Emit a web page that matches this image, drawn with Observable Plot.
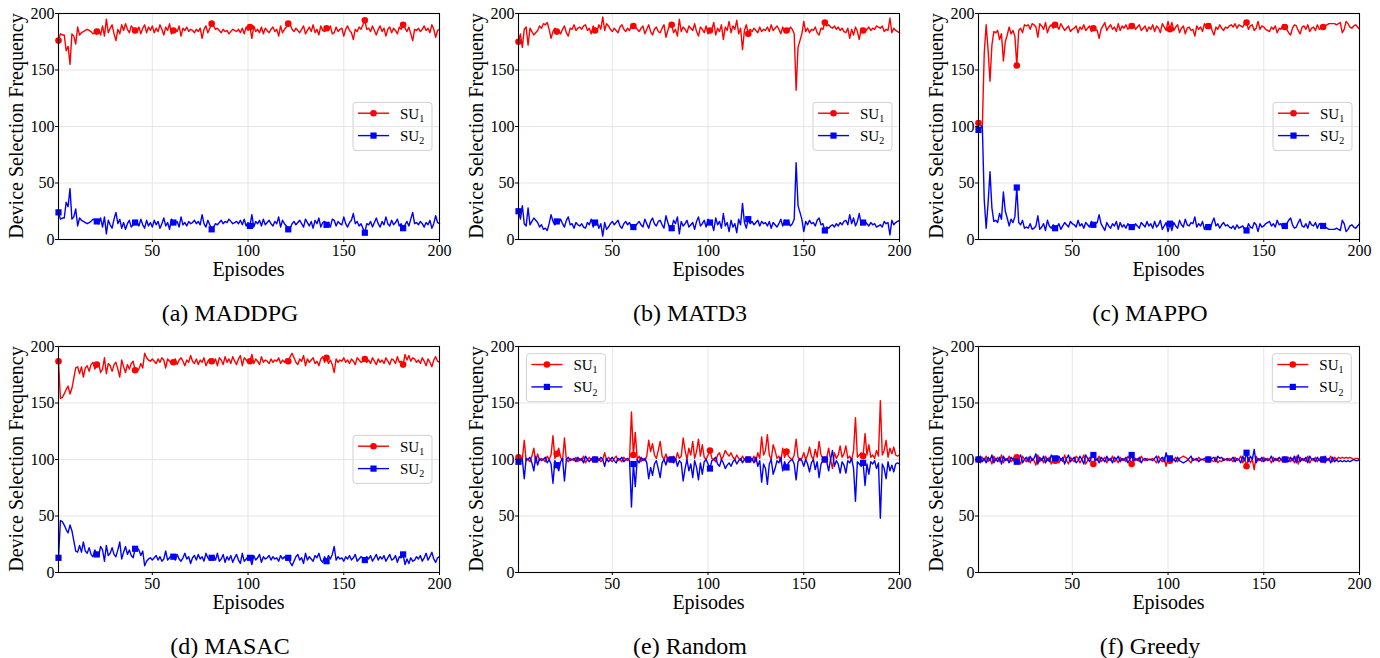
<!DOCTYPE html>
<html>
<head>
<meta charset="utf-8">
<script src="https://cdn.jsdelivr.net/npm/d3@7"></script>
<script src="https://cdn.jsdelivr.net/npm/@observablehq/plot@0.6"></script>
<style>
  html, body { margin: 0; padding: 0; background: #ffffff; }
  #page { position: relative; width: 1380px; height: 658px; overflow: hidden; background: #fff; font-family: "Liberation Serif", "DejaVu Serif", serif; }
  .panel { position: absolute; }
  #overlay { position: absolute; left: 0; top: 0; pointer-events: none; }
</style>
</head>
<body>
<div id="page"></div>
<script>
// ---------------- DATA ----------------
const episodes = d3.range(1, 201);
const markerEpisodes = [1, 21, 41, 61, 81, 101, 121, 141, 161, 181];
const xTicks = [50, 100, 150, 200];
const yTicks = [0, 50, 100, 150, 200];
const seriesNames = ["SU1", "SU2"];

const maddpgSU1 = [176,182,181,181,167,171,155,182,180,173, 188,181,183,184,185,186,185,184,182,183,
  184,186,181,189,180,195,183,187,190,182, 176,186,182,190,185,191,186,183,189,187,
  185,184,188,182,187,190,183,188,185,189, 183,187,184,190,186,181,188,185,191,182,
  185,186,184,189,180,187,185,188,184,186, 185,183,186,184,187,178,186,189,183,187,
  191,189,186,187,185,183,186,184,185,182, 184,186,185,184,186,183,187,182,188,185,
  188,178,189,184,186,183,188,182,187,185, 183,186,188,184,186,180,189,183,186,188,
  191,190,186,184,187,185,183,186,189,182, 185,188,184,190,183,186,181,189,185,184,
  187,185,189,182,183,188,184,186,187,180, 186,189,185,183,177,186,184,188,186,190,
  194,186,187,184,189,185,181,186,189,184, 187,180,186,188,183,187,185,182,188,186,
  190,187,184,188,182,176,186,185,187,184, 186,189,185,187,183,190,186,179,185,186];
const maddpgSU2 = [24,18,19,19,33,29,45,18,20,27, 12,19,17,16,15,14,15,16,18,17,
  16,14,19,11,20,5,17,13,10,18, 24,14,18,10,15,9,14,17,11,13,
  15,16,12,18,13,10,17,12,15,11, 17,13,16,10,14,19,12,15,9,18,
  15,14,16,11,20,13,15,12,16,14, 15,17,14,16,13,22,14,11,17,13,
  9,11,14,13,15,17,14,16,15,18, 16,14,15,16,14,17,13,18,12,15,
  12,22,11,16,14,17,12,18,13,15, 17,14,12,16,14,20,11,17,14,12,
  9,10,14,16,13,15,17,14,11,18, 15,12,16,10,17,14,19,11,15,16,
  13,15,11,18,17,12,16,14,13,20, 14,11,15,17,23,14,16,12,14,10,
  6,14,13,16,11,15,19,14,11,16, 13,20,14,12,17,13,15,18,12,14,
  10,13,16,12,18,24,14,15,13,16, 14,11,15,13,17,10,14,21,15,14];

const matd3SU1 = [175,182,170,186,188,172,187,184,181,183, 185,189,187,191,190,192,186,178,184,187,
  184,185,182,186,189,183,180,187,186,190, 185,187,188,186,189,190,185,187,182,189,
  185,184,190,186,197,185,191,189,186,184, 187,185,183,188,190,186,184,187,185,189,
  189,188,186,184,187,189,182,186,190,184, 181,186,188,184,183,187,190,179,185,190,
  190,183,186,180,195,184,188,186,183,189, 187,185,191,184,180,188,186,183,189,182,
  185,186,192,181,187,184,190,177,188,185, 193,183,189,186,194,182,187,168,185,190,
  182,186,184,187,185,183,188,184,186,185, 188,184,190,185,187,189,186,182,188,183,
  185,184,188,186,182,132,170,176,182,193, 184,187,183,186,185,188,183,181,187,186,
  192,189,190,188,187,189,186,188,185,187, 184,183,187,178,186,181,188,184,177,187,
  185,184,186,188,185,187,186,189,188,187, 189,184,186,185,196,183,187,185,184,183];
const matd3SU2 = [25,18,30,14,12,28,13,16,19,17, 15,11,13,9,10,8,14,22,16,13,
  16,15,18,14,11,17,20,13,14,10, 15,13,12,14,11,10,15,13,18,11,
  15,16,10,14,3,15,9,11,14,16, 13,15,17,12,10,14,16,13,15,11,
  11,12,14,16,13,11,18,14,10,16, 19,14,12,16,17,13,10,21,15,10,
  10,17,14,20,5,16,12,14,17,11, 13,15,9,16,20,12,14,17,11,18,
  15,14,8,19,13,16,10,23,12,15, 7,17,11,14,6,18,13,32,15,10,
  18,14,16,13,15,17,12,16,14,15, 12,16,10,15,13,11,14,18,12,17,
  15,16,12,14,18,68,30,24,18,7, 16,13,17,14,15,12,17,19,13,14,
  8,11,10,12,13,11,14,12,15,13, 16,17,13,22,14,19,12,16,23,13,
  15,16,14,12,15,13,14,11,12,13, 11,16,14,15,4,17,13,15,16,17];

const mappoSU1 = [103,101,100,165,190,168,140,172,184,183, 185,177,182,158,175,181,188,182,185,180,
  154,185,187,183,190,189,190,186,191,190, 188,179,191,189,186,192,183,188,190,187,
  190,189,186,191,188,185,187,189,184,186, 187,189,183,188,186,190,185,187,189,184,
  187,186,185,178,186,189,192,185,188,190, 186,188,184,191,185,189,187,190,186,188,
  189,191,186,188,190,185,187,189,184,188, 186,190,184,189,187,183,191,188,185,193,
  186,192,185,188,190,183,187,189,182,187, 188,185,186,180,189,186,188,184,191,187,
  189,191,185,181,188,186,190,187,185,188, 187,189,190,188,191,187,190,189,188,191,
  192,186,189,190,185,187,193,186,189,188, 186,185,184,188,186,189,183,187,186,190,
  188,186,183,181,187,190,189,185,182,188, 189,186,190,184,187,188,185,190,186,187,
  188,189,190,191,191,191,191,190,191,192, 183,186,193,191,188,187,189,190,188,186];
const mappoSU2 = [97,99,100,35,10,32,60,28,16,17, 15,23,18,42,25,19,12,18,15,20,
  46,15,13,17,10,11,10,14,9,10, 12,21,9,11,14,8,17,12,10,13,
  10,11,14,9,12,15,13,11,16,14, 13,11,17,12,14,10,15,13,11,16,
  13,14,15,22,14,11,8,15,12,10, 14,12,16,9,15,11,13,10,14,12,
  11,9,14,12,10,15,13,11,16,12, 14,10,16,11,13,17,9,12,15,7,
  14,8,15,12,10,17,13,11,18,13, 12,15,14,20,11,14,12,16,9,13,
  11,9,15,19,12,14,10,13,15,12, 13,11,10,12,9,13,10,11,12,9,
  8,14,11,10,15,13,7,14,11,12, 14,15,16,12,14,11,17,13,14,10,
  12,14,17,19,13,10,11,15,18,12, 11,14,10,16,13,12,15,10,14,13,
  12,11,10,9,9,9,9,10,9,8, 17,14,7,9,12,13,11,10,12,14];

const masacSU1 = [187,154,155,158,162,165,158,163,172,181, 182,176,182,173,181,183,178,184,186,180,
  184,185,177,180,190,176,185,183,178,184, 186,180,173,188,182,177,184,180,185,187,
  179,178,180,185,181,194,190,188,187,189, 187,185,189,186,190,188,181,189,187,185,
  186,189,184,188,190,187,183,188,186,192, 187,185,189,184,188,186,190,183,187,189,
  187,185,189,183,190,188,184,191,186,189, 185,191,187,184,189,192,183,190,188,186,
  187,193,185,189,187,184,191,186,188,187, 185,189,186,188,187,190,185,188,186,189,
  187,191,194,190,186,184,189,187,192,183, 189,186,188,190,185,187,183,189,191,186,
  190,185,188,184,177,189,186,188,187,190, 186,188,185,189,187,184,190,188,186,187,
  189,186,188,185,190,187,184,189,186,188, 185,190,187,184,189,188,185,191,186,187,
  184,193,188,192,187,190,189,186,188,185, 190,187,183,189,186,182,188,191,187,186];
const masacSU2 = [13,46,45,42,38,35,42,37,28,19, 18,24,18,27,19,17,22,16,14,20,
  16,15,23,20,10,24,15,17,22,16, 14,20,27,12,18,23,16,20,15,13,
  21,22,20,15,19,6,10,12,13,11, 13,15,11,14,10,12,19,11,13,15,
  14,11,16,12,10,13,17,12,14,8, 13,15,11,16,12,14,10,17,13,11,
  13,15,11,17,10,12,16,9,14,11, 15,9,13,16,11,8,17,10,12,14,
  13,7,15,11,13,16,9,14,12,13, 15,11,14,12,13,10,15,12,14,11,
  13,9,6,10,14,16,11,13,8,17, 11,14,12,10,15,13,17,11,9,14,
  10,15,12,16,23,11,14,12,13,10, 14,12,15,11,13,16,10,12,14,13,
  11,14,12,15,10,13,16,11,14,12, 15,10,13,16,11,12,15,9,14,13,
  16,7,12,8,13,10,11,14,12,15, 10,13,17,11,14,18,12,9,13,14];

const randomSU1 = [102,98,100,117,99,100,98,103,110,97, 105,99,101,100,98,103,100,104,121,101,
  105,110,102,99,119,100,98,101,100,99, 102,98,101,99,103,97,100,102,99,101,
  100,99,101,98,100,106,99,102,100,98, 101,103,99,100,98,102,100,99,101,142,
  104,124,100,103,98,101,99,103,117,107, 114,104,101,108,116,103,100,105,98,102,
  100,103,99,106,101,103,119,108,100,110, 104,116,101,107,118,103,113,102,100,104,
  108,101,100,98,104,106,100,103,108,105, 103,106,102,100,104,101,99,103,100,98,
  100,101,99,103,98,106,101,120,104,108, 122,104,100,113,108,101,103,98,110,102,
  107,103,101,100,104,118,102,99,101,106, 100,104,111,103,100,109,102,116,104,101,
  100,102,110,100,92,106,101,104,112,102, 105,112,101,103,99,108,137,102,104,106,
  103,123,104,113,102,104,101,108,103,152, 104,108,117,102,110,105,111,104,103,104];
const randomSU2 = [98,102,100,83,101,100,102,97,90,103, 95,101,99,100,102,97,100,96,79,99,
  95,90,98,101,81,100,102,99,100,101, 98,102,99,101,97,103,100,98,101,99,
  100,101,99,102,100,94,101,98,100,102, 99,97,101,100,102,98,100,101,99,58,
  96,76,100,97,102,99,101,97,83,93, 86,96,99,92,84,97,100,95,102,98,
  100,97,101,94,99,97,81,92,100,90, 96,84,99,93,82,97,87,98,100,96,
  92,99,100,102,96,94,100,97,92,95, 97,94,98,100,96,99,101,97,100,102,
  100,99,101,97,102,94,99,80,96,92, 78,96,100,87,92,99,97,102,90,98,
  93,97,99,100,96,82,98,101,99,94, 100,96,89,97,100,91,98,84,96,99,
  100,98,90,100,108,94,99,96,88,98, 95,88,99,97,101,92,63,98,96,94,
  97,77,96,87,98,96,99,92,97,48, 96,92,83,98,90,95,89,96,97,96];

const greedySU1 = [100,97,102,99,103,98,101,96,103,99, 102,98,104,97,101,99,103,98,100,97,
  102,99,96,103,100,98,102,97,101,99, 95,104,98,101,97,103,99,102,96,100,
  99,103,97,101,98,104,99,96,102,100, 98,103,101,97,100,104,96,99,102,98,
  96,101,99,103,98,100,102,97,101,99, 103,98,100,97,102,99,101,98,103,100,
  96,102,99,101,98,103,100,99,101,100, 100,101,99,97,103,100,98,102,94,101,
  99,101,100,102,98,101,102,103,102,101, 99,97,101,100,99,102,100,100,99,100,
  100,101,99,98,102,97,99,98,101,100, 99,101,100,98,102,99,100,103,97,101,
  94,102,97,100,91,103,99,101,98,102, 99,101,100,97,102,99,101,98,100,101,
  100,99,102,98,101,97,103,96,102,99, 101,98,103,97,100,99,102,98,101,100,
  100,97,101,99,103,98,102,100,102,101, 102,101,102,101,102,101,100,101,101,100];
const greedySU2 = [100,103,98,101,97,102,99,104,97,101, 98,102,96,103,99,101,97,102,100,103,
  98,101,104,97,100,102,98,103,99,101, 105,96,102,99,103,97,101,98,104,100,
  101,97,103,99,102,96,101,104,98,100, 102,97,99,103,100,96,104,101,98,102,
  104,99,101,97,102,100,98,103,99,101, 97,102,100,103,98,101,99,102,97,100,
  104,98,101,99,102,97,100,101,99,100, 100,99,101,103,97,100,102,98,106,99,
  101,99,100,98,102,99,98,97,98,99, 101,103,99,100,101,98,100,100,101,100,
  100,99,101,102,98,103,101,102,99,100, 101,99,100,102,98,101,100,97,103,99,
  106,98,103,100,109,97,101,99,102,98, 101,99,100,103,98,101,99,102,100,99,
  100,101,98,102,99,103,97,104,98,101, 99,102,97,103,100,101,98,102,99,100,
  100,103,99,101,97,102,98,100,98,99, 98,99,98,99,98,99,100,99,99,100];

const captions = ["(a) MADDPG", "(b) MATD3", "(c) MAPPO", "(d) MASAC", "(e) Random", "(f) Greedy"];
const su1Series = [maddpgSU1, matd3SU1, mappoSU1, masacSU1, randomSU1, greedySU1];
const su2Series = [maddpgSU2, matd3SU2, mappoSU2, masacSU2, randomSU2, greedySU2];
const legendPlaces = ["right", "right", "right", "right", "upper-left", "upper-right"];

// ---------------- LAYOUT ----------------
const RED = "#ff0000", BLUE = "#0000ff";
const PW = 460, PH = 290, ROWSTEP = 333;
const ML = 58, MR = 21, MT = 13, MB = 51;
const FONT = "'Liberation Serif', 'Times New Roman', serif";

const page = document.getElementById("page");

function makePanel(su1, su2) {
  const rows = episodes.map((e, i) => ({ep: e, s1: su1[i], s2: su2[i]}));
  const marks = rows.filter(d => markerEpisodes.includes(d.ep));
  return Plot.plot({
    width: PW, height: PH,
    marginLeft: ML, marginRight: MR, marginTop: MT, marginBottom: MB,
    style: {fontFamily: FONT, fontSize: "16px", color: "#000", background: "transparent", overflow: "visible"},
    x: {domain: [1, 200], label: null},
    y: {domain: [0, 200], label: null},
    marks: [
      Plot.gridX(xTicks, {stroke: "#e3e3e3", strokeOpacity: 1, strokeWidth: 0.9}),
      Plot.gridY(yTicks, {stroke: "#e3e3e3", strokeOpacity: 1, strokeWidth: 0.9}),
      Plot.line(rows, {x: "ep", y: "s1", stroke: RED, strokeWidth: 1.4}),
      Plot.line(rows, {x: "ep", y: "s2", stroke: BLUE, strokeWidth: 1.4}),
      Plot.dot(marks, {x: "ep", y: "s1", r: 3.3, fill: RED, stroke: "none", symbol: "circle"}),
      Plot.dot(marks, {x: "ep", y: "s2", r: 3.5, fill: BLUE, stroke: "none", symbol: "square"}),
      Plot.frame({stroke: "#000", strokeWidth: 1.1}),
      Plot.axisX(xTicks, {tickSize: 3, tickPadding: 2.5, label: null, fontSize: 16}),
      Plot.axisY(yTicks, {tickSize: 3, tickPadding: 1, label: null, fontSize: 16})
    ]
  });
}

const NS = "http://www.w3.org/2000/svg";
const overlay = d3.select(page).append("svg")
  .attr("id", "overlay").attr("width", 1380).attr("height", 658)
  .style("font-family", FONT);

su1Series.forEach((su1, k) => {
  const col = k % 3, row = Math.floor(k / 3);
  const left0 = col * PW, top0 = row * ROWSTEP;
  const div = document.createElement("div");
  div.className = "panel";
  div.style.left = left0 + "px";
  div.style.top = top0 + "px";
  div.appendChild(makePanel(su1, su2Series[k]));
  page.appendChild(div);

  const plotL = left0 + ML, plotR = left0 + PW - MR, plotT = top0 + MT, plotB = top0 + PH - MB;

  // y label
  overlay.append("text")
    .attr("transform", `translate(${left0 + 22.5},${(plotT + plotB) / 2}) rotate(-90)`)
    .attr("text-anchor", "middle").attr("font-size", 20).attr("fill", "#000")
    .text("Device Selection Frequency");
  // x label
  overlay.append("text")
    .attr("x", (plotL + plotR) / 2).attr("y", top0 + 276)
    .attr("text-anchor", "middle").attr("font-size", 20).attr("fill", "#000")
    .text("Episodes");
  // caption
  overlay.append("text")
    .attr("x", left0 + 230).attr("y", top0 + 320.5)
    .attr("text-anchor", "middle").attr("font-size", 24).attr("fill", "#000")
    .text(captions[k]);

  // legend
  const LW = 79, LH = 48;
  let lx, ly;
  if (legendPlaces[k] === "right") { lx = plotR - 7 - LW; ly = plotT + 89.4; }
  else if (legendPlaces[k] === "upper-left") { lx = plotL + 8.4; ly = plotT + 7.7; }
  else { lx = plotR - 7.7 - LW; ly = plotT + 7.7; }
  const g = overlay.append("g").attr("transform", `translate(${lx},${ly})`);
  g.append("rect").attr("x", 0).attr("y", 0).attr("width", LW).attr("height", LH)
    .attr("rx", 3).attr("fill", "#fff").attr("fill-opacity", 0.85)
    .attr("stroke", "#d0d0d0").attr("stroke-width", 1);
  const entries = [{c: RED, sym: "circle", sub: "1", cy: 10.8}, {c: BLUE, sym: "square", sub: "2", cy: 33.2}];
  entries.forEach(en => {
    g.append("line").attr("x1", 5).attr("x2", 36).attr("y1", en.cy).attr("y2", en.cy)
      .attr("stroke", en.c).attr("stroke-width", 1.4);
    if (en.sym === "circle") g.append("circle").attr("cx", 20.5).attr("cy", en.cy).attr("r", 3.3).attr("fill", en.c);
    else g.append("rect").attr("x", 20.5 - 3.1).attr("y", en.cy - 3.1).attr("width", 6.2).attr("height", 6.2).attr("fill", en.c);
    const t = g.append("text").attr("x", 47).attr("y", en.cy + 5.4).attr("font-size", 15).attr("fill", "#000");
    t.append("tspan").text("SU");
    t.append("tspan").attr("font-size", 10).attr("dy", 3.5).text(en.sub);
  });
});
</script>
</body>
</html>
